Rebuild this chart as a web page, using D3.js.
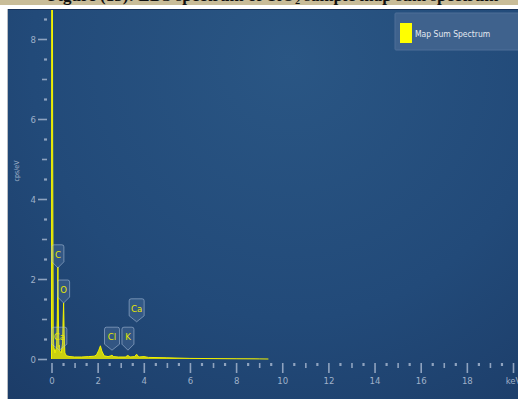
<!DOCTYPE html>
<html>
<head>
<meta charset="utf-8">
<script src="https://cdn.jsdelivr.net/npm/d3@7"></script>
<style>
  html, body { margin: 0; padding: 0; background: #ffffff; }
  svg { display: block; }
</style>
</head>
<body>
<svg id="chart" width="518" height="399"></svg>
<script>
// EDS map sum spectrum: energy (keV) and intensity (cps/eV)
const energy = [0.00, 0.01, 0.035, 0.05, 0.075, 0.10, 0.15, 0.22, 0.25, 0.277, 0.30, 0.32, 0.341, 0.36,
  0.42, 0.48, 0.505, 0.525, 0.55, 0.58, 0.65, 0.80, 1.00, 1.30, 1.60, 1.85, 1.95, 2.05, 2.12, 2.18,
  2.28, 2.45, 2.58, 2.62, 2.67, 2.90, 3.20, 3.31, 3.40, 3.60, 3.69, 3.78, 4.01, 4.20, 5.00, 6.00,
  7.00, 8.00, 9.00, 9.40];
const counts = [0.00, 12.0, 12.0, 5.5, 0.6, 0.3, 0.15, 0.3, 1.0, 2.3, 0.9, 0.3, 0.35, 0.2,
  0.15, 0.4, 1.0, 1.4, 0.6, 0.15, 0.08, 0.06, 0.05, 0.05, 0.06, 0.07, 0.10, 0.22, 0.33, 0.20,
  0.08, 0.06, 0.08, 0.10, 0.06, 0.05, 0.05, 0.09, 0.05, 0.06, 0.12, 0.05, 0.06, 0.04, 0.03, 0.015,
  0.010, 0.006, 0.003, 0.0];

// Element markers: line energy and the level the marker points at
const elements = ["C", "O", "Ca", "Cl", "K", "Ca"];
const elementEnergy = [0.277, 0.525, 0.341, 2.622, 3.313, 3.690];
const markerLevel = [2.28, 1.40, 0.22, 0.22, 0.22, 0.93];

// Axis ticks
const xMajor = [0, 2, 4, 6, 8, 10, 12, 14, 16, 18, 20];
const xLabels = ["0", "2", "4", "6", "8", "10", "12", "14", "16", "18", "keV"];
const yMajor = [0, 2, 4, 6, 8];
const yLabels = ["0", "2", "4", "6", "8"];
const yTitle = "cps/eV";
const seriesName = "Map Sum Spectrum";
const caption = "Figure (13): EDS spectrum of TiO\u2082 sample map sum spectrum";

const svg = d3.select("#chart");
const W = 518, H = 399;

const defs = svg.append("defs");
const bg = defs.append("radialGradient").attr("id", "bg")
  .attr("gradientUnits", "userSpaceOnUse")
  .attr("cx", 290).attr("cy", 60).attr("r", 470);
bg.append("stop").attr("offset", 0).attr("stop-color", "#2a5684");
bg.append("stop").attr("offset", 0.55).attr("stop-color", "#224a79");
bg.append("stop").attr("offset", 1).attr("stop-color", "#1b3a65");

defs.append("clipPath").attr("id", "captionClip")
  .append("rect").attr("x", 0).attr("y", 0).attr("width", W).attr("height", 5);
defs.append("clipPath").attr("id", "plotClip")
  .append("rect").attr("x", 8).attr("y", 10).attr("width", W - 8).attr("height", H - 10);

// caption strip above the panel
svg.append("rect").attr("x", 0).attr("y", 0).attr("width", W).attr("height", 5).attr("fill", "#c9bd99");
svg.append("text")
  .attr("clip-path", "url(#captionClip)")
  .attr("x", 48).attr("y", 1)
  .attr("font-family", "Liberation Serif, serif")
  .attr("font-weight", "bold")
  .attr("font-size", 17)
  .attr("fill", "#111")
  .text(caption);

// panel
svg.append("rect").attr("x", 8).attr("y", 9).attr("width", W - 8).attr("height", H - 9).attr("fill", "url(#bg)");
svg.append("line").attr("x1", 8).attr("x2", W).attr("y1", 9.5).attr("y2", 9.5)
  .attr("stroke", "#17325a").attr("stroke-width", 1);
svg.append("line").attr("x1", 7.5).attr("x2", 7.5).attr("y1", 9).attr("y2", H)
  .attr("stroke", "#b8bcc2").attr("stroke-width", 1);

const x = d3.scaleLinear().domain([0, 20]).range([51.5, 513]);
const y = d3.scaleLinear().domain([0, 8]).range([359, 39]);

const tickColor = "#8fa3bf";
const labelColor = "#9fb1c9";

function styleAxis(g, width) {
  g.select(".domain").remove();
  g.selectAll(".tick line").attr("stroke", tickColor).attr("stroke-width", width);
  g.selectAll(".tick text").attr("fill", labelColor)
    .attr("font-family", "DejaVu Sans Condensed, DejaVu Sans, sans-serif")
    .attr("font-size", 9.5);
}

// x axis: half, whole and even keV ticks
const xAxisY = 363;
svg.append("g").attr("transform", `translate(0,${xAxisY})`)
  .call(d3.axisBottom(x).tickValues(d3.range(0.5, 20, 1)).tickSize(3).tickFormat(""))
  .call(g => styleAxis(g, 2.2));
svg.append("g").attr("transform", `translate(0,${xAxisY})`)
  .call(d3.axisBottom(x).tickValues(d3.range(1, 20, 2)).tickSize(5).tickFormat(""))
  .call(g => styleAxis(g, 1.6));
svg.append("g").attr("transform", `translate(0,${xAxisY})`)
  .call(d3.axisBottom(x).tickValues(xMajor).tickSize(10).tickPadding(4)
    .tickFormat((d, i) => xLabels[i]))
  .call(g => styleAxis(g, 1.6));

// y axis
const yAxisX = 47;
svg.append("g").attr("transform", `translate(${yAxisX},0)`)
  .call(d3.axisLeft(y).tickValues(d3.range(0.5, 9, 1)).tickSize(3).tickFormat(""))
  .call(g => styleAxis(g, 2.2));
svg.append("g").attr("transform", `translate(${yAxisX},0)`)
  .call(d3.axisLeft(y).tickValues([1, 3, 5, 7]).tickSize(5).tickFormat(""))
  .call(g => styleAxis(g, 1.6));
svg.append("g").attr("transform", `translate(${yAxisX},0)`)
  .call(d3.axisLeft(y).tickValues(yMajor).tickSize(9).tickPadding(2)
    .tickFormat((d, i) => yLabels[i]))
  .call(g => styleAxis(g, 1.6));

svg.append("text")
  .attr("transform", `translate(19,${y(4.7)}) rotate(-90)`)
  .attr("text-anchor", "middle")
  .attr("font-family", "DejaVu Sans Condensed, DejaVu Sans, sans-serif")
  .attr("font-size", 7)
  .attr("fill", labelColor)
  .text(yTitle);

// spectrum
const pts = energy.map((e, i) => [e, counts[i]]);
const area = d3.area().x(d => x(d[0])).y0(y(0)).y1(d => y(d[1]));
const line = d3.line().x(d => x(d[0])).y(d => y(d[1]));
const plot = svg.append("g").attr("clip-path", "url(#plotClip)");
plot.append("path").datum(pts).attr("d", area).attr("fill", "#e9e900").attr("fill-opacity", 0.85);
plot.append("path").datum(pts).attr("d", line).attr("fill", "none")
  .attr("stroke", "#f2f200").attr("stroke-width", 1.0).attr("stroke-linejoin", "round");

// element markers
const markers = svg.append("g");
elements.forEach((el, i) => {
  const cx = x(elementEnergy[i]);
  const tip = y(markerLevel[i]);
  const w = el.length > 1 ? 15 : 12;
  const bodyH = 17, taper = 6;
  const top = tip - taper - bodyH;
  const l = cx - w / 2, r = cx + w / 2, b = top + bodyH;
  const p = d3.path();
  p.moveTo(l + 2, top);
  p.lineTo(r - 2, top);
  p.quadraticCurveTo(r, top, r, top + 2);
  p.lineTo(r, b);
  p.lineTo(cx, tip);
  p.lineTo(l, b);
  p.lineTo(l, top + 2);
  p.quadraticCurveTo(l, top, l + 2, top);
  p.closePath();
  markers.append("path").attr("d", p.toString())
    .attr("fill", "rgba(120,150,190,0.22)")
    .attr("stroke", "rgba(175,195,220,0.55)")
    .attr("stroke-width", 1);
  markers.append("text")
    .attr("x", cx).attr("y", top + bodyH / 2 + 2)
    .attr("text-anchor", "middle")
    .attr("dominant-baseline", "middle")
    .attr("font-family", "DejaVu Sans Condensed, DejaVu Sans, sans-serif")
    .attr("font-size", 9.5)
    .attr("fill", "#e8e800")
    .text(el);
});

// legend
const legend = svg.append("g");
legend.append("rect").attr("x", 395).attr("y", 13).attr("width", 130).attr("height", 37)
  .attr("rx", 1).attr("fill", "#3f628d").attr("stroke", "#4e6f98").attr("stroke-width", 1);
legend.append("rect").attr("x", 400).attr("y", 23).attr("width", 12).attr("height", 20)
  .attr("fill", "#ffff00");
legend.append("text").attr("x", 415).attr("y", 36.5)
  .attr("font-family", "DejaVu Sans Condensed, DejaVu Sans, sans-serif")
  .attr("font-size", 8.5)
  .attr("fill", "#e4e9f0")
  .text(seriesName);
</script>
</body>
</html>
